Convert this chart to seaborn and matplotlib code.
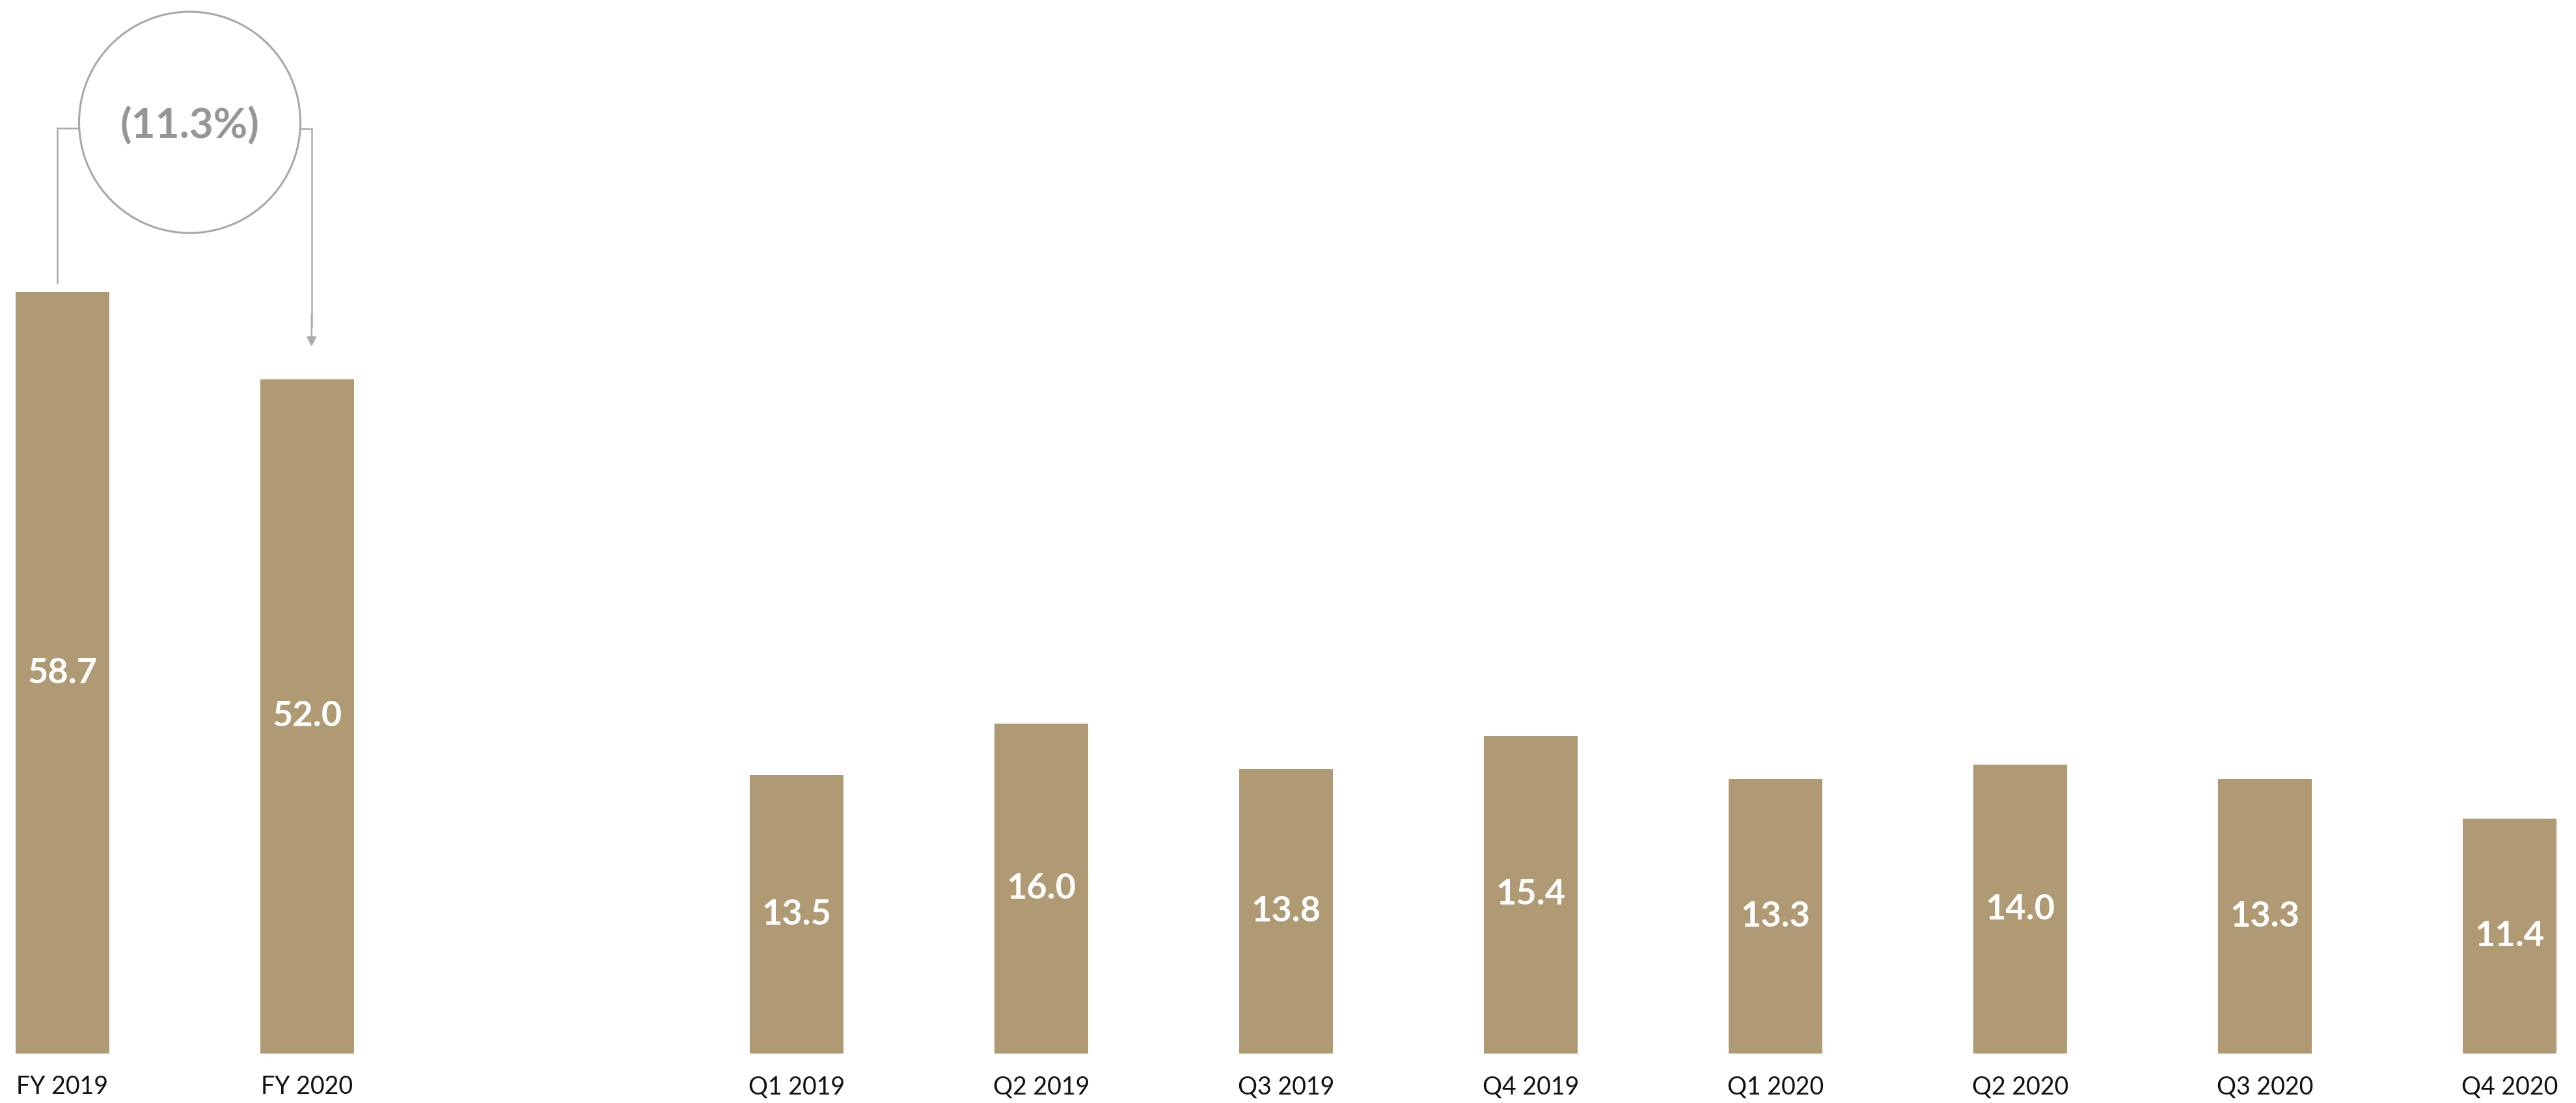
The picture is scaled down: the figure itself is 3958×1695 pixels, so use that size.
import matplotlib
matplotlib.use("Agg")
import matplotlib.pyplot as plt
from matplotlib.patches import Ellipse
import seaborn as sns
import pandas as pd

# ---- data ----
fy_labels = ["FY 2019", "FY 2020"]
fy_values = [58.7, 52.0]
q_labels = ["Q1 2019", "Q2 2019", "Q3 2019", "Q4 2019",
            "Q1 2020", "Q2 2020", "Q3 2020", "Q4 2020"]
q_values = [13.5, 16.0, 13.8, 15.4, 13.3, 14.0, 13.3, 11.4]
change_label = "(11.3%)"

order = fy_labels + [" "] + q_labels

sns.set_theme(style="white")
plt.rcParams["font.family"] = ["Lato", "DejaVu Sans"]

BAR = "#B09A74"
GREY_LINE = "#AAAAAA"

W, H = 3958, 1695
fig = plt.figure(figsize=(W / 100, H / 100), dpi=100)
fig.patch.set_facecolor("white")

bottom_px = 1619
pos = [0, (H - bottom_px) / H, 1, bottom_px / H]
ax_fy = fig.add_axes(pos)
ax_q = fig.add_axes(pos)
ax_q.patch.set_alpha(0)

slot_px = 376.0
first_px = 96.0
xmin = -first_px / slot_px
xmax = xmin + W / slot_px

fy_df = pd.DataFrame({"period": fy_labels, "value": fy_values})
q_df = pd.DataFrame({"period": q_labels, "value": q_values})

sns.barplot(data=fy_df, x="period", y="value", order=order, ax=ax_fy,
            color=BAR, saturation=1, width=0.383, linewidth=0)
sns.barplot(data=q_df, x="period", y="value", order=order, ax=ax_q,
            color=BAR, saturation=1, width=0.383, linewidth=0)

fy_scale = 19.93   # px per unit
q_scale = 31.7
ax_fy.set_ylim(0, bottom_px / fy_scale)
ax_q.set_ylim(0, bottom_px / q_scale)
for ax in (ax_fy, ax_q):
    ax.set_xlim(xmin, xmax)
    ax.set_xlabel("")
    ax.set_ylabel("")
    ax.set_yticks([])
    for s in ax.spines.values():
        s.set_visible(False)

ax_q.set_xticks([])
ax_fy.set_xticks(range(len(order)))
ax_fy.set_xticklabels(order, fontsize=27, color="#111111")
ax_fy.tick_params(axis="x", length=0, pad=24)

for ax, vals in ((ax_fy, fy_values), (ax_q, q_values)):
    for cont in ax.containers:
        ax.bar_label(cont, labels=[f"{v:.1f}" for v in vals], label_type="center",
                     color="white", fontsize=39, fontweight="bold")

# ---- change annotation ----
cx, cy = 0.52, 71.8
r_px = 170
circ = Ellipse((cx, cy), width=2 * r_px / slot_px, height=2 * r_px / fy_scale,
               facecolor="white", edgecolor="#A8A8A8", linewidth=2.2, zorder=5,
               clip_on=False)
ax_fy.add_patch(circ)
ax_fy.text(cx, cy - 0.2, change_label, ha="center", va="center", fontsize=46,
           color="#969696", fontweight="bold", zorder=6)

line_y = cy - 0.45
left_x = 0 - 0.022
ax_fy.plot([cx - r_px / slot_px, left_x, left_x],
           [line_y, line_y, fy_values[0] + 0.7],
           color=GREY_LINE, linewidth=1.8, zorder=4, solid_joinstyle="miter")
right_x = 1 + 0.018
ax_fy.plot([cx + r_px / slot_px, right_x, right_x],
           [line_y - 0.05, line_y - 0.05, fy_values[1] + 4],
           color=GREY_LINE, linewidth=1.8, zorder=4, solid_joinstyle="miter")
ax_fy.annotate("", xy=(right_x, fy_values[1] + 2.5), xytext=(right_x, fy_values[1] + 5),
               arrowprops=dict(arrowstyle="-|>", color=GREY_LINE, lw=1.8,
                               mutation_scale=22, shrinkA=0, shrinkB=0), zorder=4)

fig.savefig("out.png", dpi=100)
